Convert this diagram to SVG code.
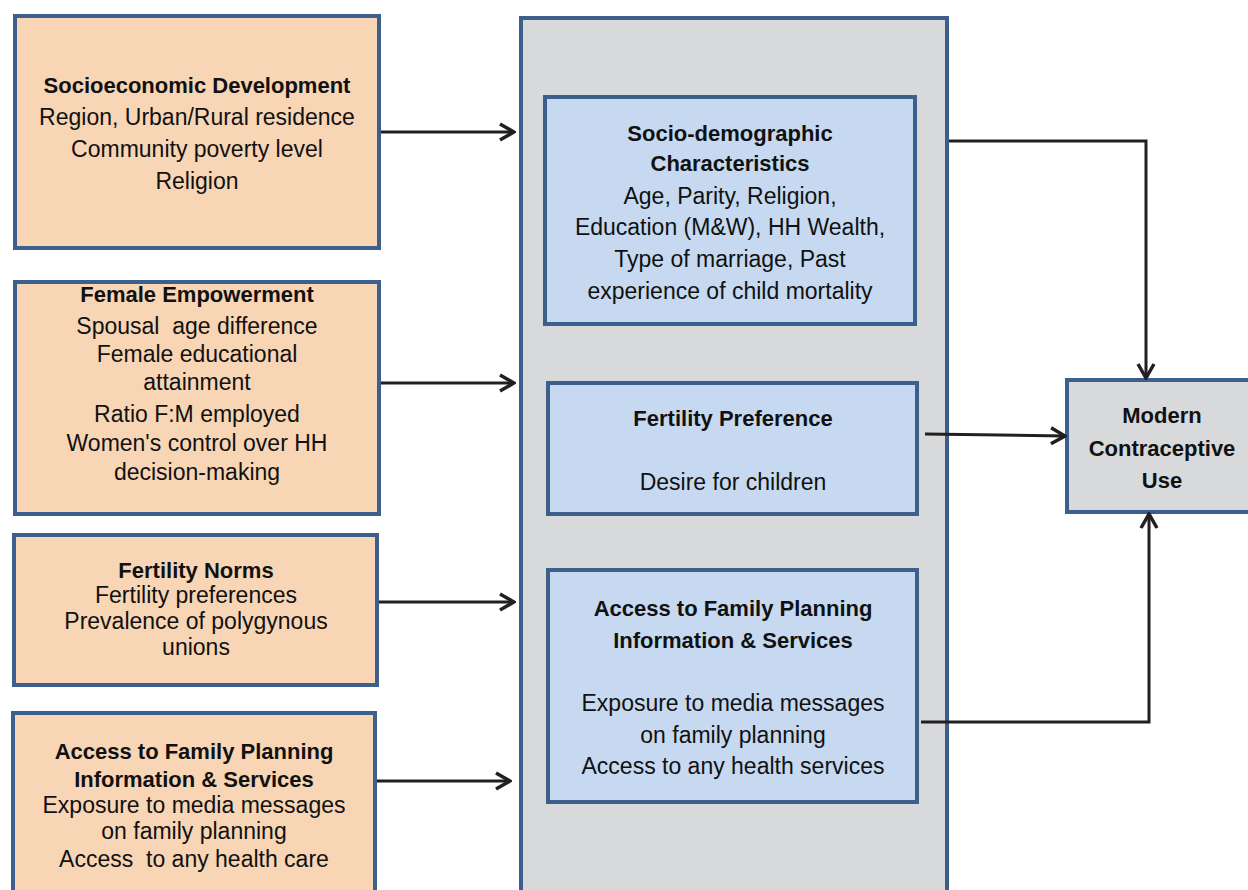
<svg xmlns="http://www.w3.org/2000/svg" width="1248" height="890" viewBox="0 0 1248 890">
<style>
.peach{fill:#f8d5b4;stroke:#3d5f8c;stroke-width:4}
.blue{fill:#c6d9f0;stroke:#3d5f8c;stroke-width:4}
.gray{fill:#d8d9db;stroke:#3d5f8c;stroke-width:4}
text{font-family:"Liberation Sans",Arial,sans-serif;font-size:23px;fill:#111;text-anchor:middle;white-space:pre}
.b{font-weight:bold;font-size:22px}
.conn{fill:none;stroke:#231f20;stroke-width:3}
</style>
<defs>
<marker id="ah" viewBox="0 0 18 20" refX="16" refY="10" markerWidth="18" markerHeight="20" markerUnits="userSpaceOnUse" orient="auto">
<path d="M2,2 L16,10 L2,18" fill="none" stroke="#231f20" stroke-width="3.5"/>
</marker>
</defs>
<g id="mediator-panel"><rect class="gray" x="521" y="18" width="426" height="890"/></g>
<g id="socioeconomic">
<rect class="peach" x="15" y="16" width="364" height="232"/>
<text x="197" y="93" class="b">Socioeconomic Development</text>
<text x="197" y="125">Region, Urban/Rural residence</text>
<text x="197" y="157">Community poverty level</text>
<text x="197" y="189">Religion</text>
</g>
<g id="female-empowerment">
<rect class="peach" x="15" y="282" width="364" height="232"/>
<text x="197" y="302" class="b">Female Empowerment</text>
<text x="197" y="334">Spousal  age difference</text>
<text x="197" y="362">Female educational</text>
<text x="197" y="390">attainment</text>
<text x="197" y="422">Ratio F:M employed</text>
<text x="197" y="451">Women's control over HH</text>
<text x="197" y="480">decision-making</text>
</g>
<g id="fertility-norms">
<rect class="peach" x="14" y="535" width="363" height="150"/>
<text x="196" y="578" class="b">Fertility Norms</text>
<text x="196" y="603">Fertility preferences</text>
<text x="196" y="629">Prevalence of polygynous</text>
<text x="196" y="655">unions</text>
</g>
<g id="access-left">
<rect class="peach" x="13" y="713" width="362" height="200"/>
<text x="194" y="759" class="b">Access to Family Planning</text>
<text x="194" y="787" class="b">Information &amp; Services</text>
<text x="194" y="813">Exposure to media messages</text>
<text x="194" y="839">on family planning</text>
<text x="194" y="867">Access  to any health care</text>
</g>
<g id="socio-demographic">
<rect class="blue" x="545" y="97" width="370" height="227"/>
<text x="730" y="141" class="b">Socio-demographic</text>
<text x="730" y="171" class="b">Characteristics</text>
<text x="730" y="204">Age, Parity, Religion,</text>
<text x="730" y="235">Education (M&amp;W), HH Wealth,</text>
<text x="730" y="267">Type of marriage, Past</text>
<text x="730" y="299">experience of child mortality</text>
</g>
<g id="fertility-preference">
<rect class="blue" x="548" y="383" width="369" height="131"/>
<text x="733" y="426" class="b">Fertility Preference</text>
<text x="733" y="490">Desire for children</text>
</g>
<g id="access-mid">
<rect class="blue" x="548" y="570" width="369" height="232"/>
<text x="733" y="616" class="b">Access to Family Planning</text>
<text x="733" y="648" class="b">Information &amp; Services</text>
<text x="733" y="711">Exposure to media messages</text>
<text x="733" y="743">on family planning</text>
<text x="733" y="774">Access to any health services</text>
</g>
<g id="modern-use">
<rect class="gray" x="1067" y="380" width="200" height="132"/>
<text x="1162" y="423" class="b">Modern</text>
<text x="1162" y="456" class="b">Contraceptive</text>
<text x="1162" y="488" class="b">Use</text>
</g>
<g id="connectors">
<path class="conn" d="M381,132 L514,132" marker-end="url(#ah)"/>
<path class="conn" d="M381,383 L514,383" marker-end="url(#ah)"/>
<path class="conn" d="M379,602 L514,602" marker-end="url(#ah)"/>
<path class="conn" d="M377,781 L510,781" marker-end="url(#ah)"/>
<path class="conn" d="M949,141 L1146,141 L1146,378" marker-end="url(#ah)"/>
<path class="conn" d="M925,434 L1065,436" marker-end="url(#ah)"/>
<path class="conn" d="M921,722 L1149,722 L1149,514" marker-end="url(#ah)"/>
</g>
</svg>
